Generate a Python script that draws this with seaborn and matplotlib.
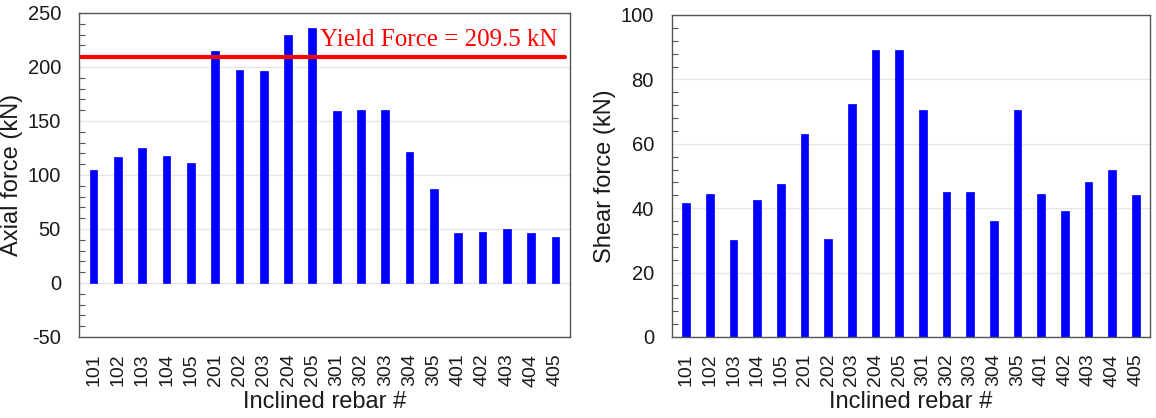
import matplotlib
matplotlib.use("Agg")
import matplotlib.pyplot as plt
import seaborn as sns
import pandas as pd
from matplotlib.ticker import MultipleLocator

rebars = ["101", "102", "103", "104", "105", "201", "202", "203", "204", "205",
          "301", "302", "303", "304", "305", "401", "402", "403", "404", "405"]
axial_force = [105, 117, 125, 118, 111, 215, 197, 196, 230, 236,
               159, 160, 160, 121, 87, 46, 47, 50, 46, 43]
shear_force = [41.5, 44.5, 30, 42.5, 47.5, 63, 30.5, 72.5, 89, 89,
               70.5, 45, 45, 36, 70.5, 44.5, 39, 48, 52, 44]
yield_force = 209.5

sns.set_theme(style="white")
plt.rcParams['font.family'] = ['Liberation Sans', 'DejaVu Sans']
plt.rcParams['axes.unicode_minus'] = False
plt.rcParams['text.color'] = '#1a1a1a'
plt.rcParams['axes.labelcolor'] = '#1a1a1a'
plt.rcParams['xtick.color'] = '#1a1a1a'
plt.rcParams['ytick.color'] = '#1a1a1a'

df = pd.DataFrame({"rebar": rebars, "axial": axial_force, "shear": shear_force})

fig = plt.figure(figsize=(11.56, 4.18), dpi=100)
ax1 = fig.add_axes([79 / 1156, 81 / 418, 491 / 1156, 324 / 418])
ax2 = fig.add_axes([672 / 1156, 81 / 418, 478 / 1156, 322 / 418])

for ax, col, ylabel, lims, major, minor in [
    (ax1, "axial", "Axial force (kN)", (-50, 250), 50, 10),
    (ax2, "shear", "Shear force (kN)", (0, 100), 20, 4),
]:
    sns.barplot(data=df, x="rebar", y=col, ax=ax, color="#0000FF",
                saturation=1, width=0.32, edgecolor="#0000FF", linewidth=0.5)
    ax.set_ylim(*lims)
    ax.set_xlim(-0.6, len(rebars) - 0.4)
    ax.yaxis.set_major_locator(MultipleLocator(major))
    ax.yaxis.set_minor_locator(MultipleLocator(minor))
    ax.grid(axis="y", which="major", color="#e6e6e6", linewidth=1)
    ax.set_axisbelow(True)
    ax.tick_params(axis="y", which="minor", direction="in", length=4,
                   left=True, width=0.8, color="#555555")
    ax.tick_params(axis="y", which="major", direction="in", length=0,
                   left=True, labelsize=14.5, pad=13)
    ax.tick_params(axis="x", which="major", length=0, labelsize=14,
                   labelrotation=90, pad=12)
    for s in ax.spines.values():
        s.set_color("#555555")
        s.set_linewidth(1.0)
    ax.set_xlabel("Inclined rebar #", fontsize=17, labelpad=3)
    ax.set_ylabel(ylabel, fontsize=17, labelpad=3)

ax1.axhline(yield_force, xmin=0, xmax=0.99, color="#FF0000", linewidth=3)
ax1.text(0.975, yield_force + 5, "Yield Force = 209.5 kN",
         transform=ax1.get_yaxis_transform(), ha="right", va="bottom",
         color="#FF0000", fontsize=18, family=["Liberation Serif", "DejaVu Serif"])

fig.savefig("out.png", dpi=100)
